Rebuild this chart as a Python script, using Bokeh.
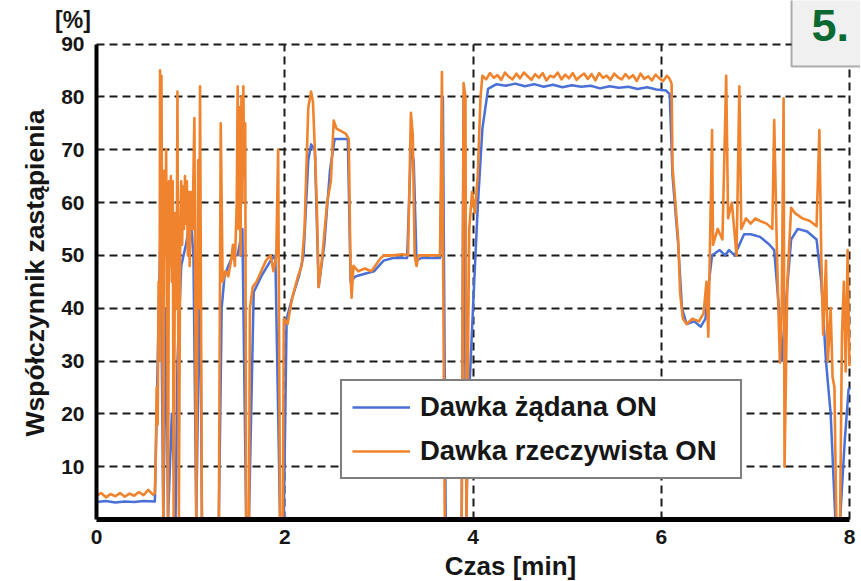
import math
from bokeh.plotting import figure
from bokeh.models import Range1d, FixedTicker, Label, BoxAnnotation
from bokeh.embed import file_html
from bokeh.resources import INLINE

# ---------------- data ----------------
x_ticks = [0, 2, 4, 6, 8]
y_ticks = [10, 20, 30, 40, 50, 60, 70, 80, 90]

# "Dawka rzeczywista ON" (orange)
t_act = [0.00, 0.05, 0.10, 0.15, 0.20, 0.25, 0.30, 0.35, 0.40, 0.45, 0.50, 0.55, 0.60, 0.62,
         0.63, 0.64, 0.65, 0.66, 0.67, 0.675, 0.685, 0.69, 0.70, 0.71, 0.72, 0.73, 0.74, 0.75,
         0.76, 0.77, 0.78, 0.79, 0.80, 0.81, 0.82, 0.835, 0.85, 0.86, 0.875, 0.89, 0.90, 0.91,
         0.92, 0.93, 0.94, 0.95, 0.96, 0.97, 0.98, 0.99, 1.00, 1.02, 1.04, 1.06, 1.08, 1.09,
         1.10, 1.12, 1.30, 1.32, 1.34, 1.37, 1.40, 1.43, 1.45, 1.47, 1.49, 1.50, 1.51, 1.52,
         1.53, 1.54, 1.55, 1.56, 1.57, 1.58, 1.59, 1.62, 1.63, 1.66, 1.70, 1.75, 1.80, 1.85,
         1.88, 1.91, 1.93, 1.95, 1.98, 1.99, 2.03, 2.08, 2.14, 2.18, 2.21, 2.25, 2.28, 2.30,
         2.32, 2.34, 2.36, 2.40, 2.45, 2.49, 2.52, 2.55, 2.60, 2.65, 2.68, 2.70, 2.71, 2.73,
         2.78, 2.85, 2.92, 2.96, 3.02, 3.06, 3.15, 3.25, 3.31, 3.34, 3.36, 3.38, 3.40, 3.42,
         3.55, 3.65, 3.67, 3.70, 3.88, 3.90, 3.92, 3.93, 3.96, 3.99, 4.02, 4.05, 4.08, 4.10,
         4.14, 4.18, 4.22, 4.26, 4.30, 4.34, 4.38, 4.42, 4.46, 4.50, 4.54, 4.58, 4.62, 4.66,
         4.70, 4.74, 4.78, 4.82, 4.86, 4.90, 4.94, 4.98, 5.02, 5.06, 5.10, 5.14, 5.18, 5.22,
         5.26, 5.30, 5.34, 5.38, 5.42, 5.46, 5.50, 5.54, 5.58, 5.62, 5.66, 5.70, 5.74, 5.78,
         5.82, 5.86, 5.90, 5.94, 5.98, 6.02, 6.06, 6.09, 6.11, 6.12,
         6.15, 6.18, 6.20, 6.23, 6.27, 6.33, 6.40, 6.45, 6.48, 6.50, 6.54, 6.55, 6.60, 6.65,
         6.69, 6.71, 6.75, 6.80, 6.83, 6.85, 6.90, 6.95, 7.00, 7.05, 7.12, 7.18, 7.20, 7.23,
         7.26, 7.28, 7.30, 7.31, 7.34, 7.38, 7.42, 7.50, 7.58, 7.65, 7.68, 7.70, 7.72, 7.75,
         7.77, 7.80, 7.82, 7.84, 7.86, 7.90, 7.92, 7.94, 7.96, 7.98, 8.00]
v_act = [4.5, 5.0, 4.2, 4.8, 4.4, 5.0, 4.3, 4.9, 4.5, 5.2, 4.6, 5.6, 4.7, 5.0,
         12, 25, 18, 45, 30, 85, 60, 84, 40, 0, 66, 50, 70, 40,
         0, 64, 48, 65, 45, 64, 0, 58, 40, 81, 0, 55, 64, 52,
         63, 55, 65, 56, 64, 50, 62, 48, 62, 55, 76, 0, 68, 40,
         82, 0, 0, 75, 45, 47, 46, 49, 52, 48, 60, 82, 55, 78,
         50, 80, 60, 82, 65, 75, 0, 0, 40, 44, 45, 47, 49, 50,
         47, 50, 70, 0, 0, 38, 37, 42, 46, 48, 55, 78, 81, 79,
         70, 60, 44, 50, 60, 64, 75.5, 74, 73.5, 73, 72, 46, 42, 48,
         47, 47.5, 47, 48, 49.5, 50, 50, 50.2, 50, 77, 73, 50, 48, 50,
         50, 50, 84.7, 0, 0, 82.6, 80, 0, 55, 62, 58, 65, 80, 84.0,
         83.3, 84.5, 83.6, 84.1, 83.2, 84.6, 83.8, 83.3, 84.4, 83.5, 84.6, 83.9, 83.2, 84.3,
         83.6, 84.5, 83.1, 84.0, 83.7, 84.6, 83.3, 84.2, 83.5, 84.5, 83.2, 83.9, 84.4, 83.4,
         84.3, 83.1, 84.5, 83.6, 84.0, 83.2, 84.4, 83.7, 83.3, 84.3, 83.5, 84.1, 83.0, 84.4,
         83.4, 83.9, 83.1, 84.2, 83.5, 83.0, 84.0, 83.4, 82.5, 66.7,
         60, 53, 43, 38, 37, 38, 37.5, 39, 45, 34.6, 73.7, 52, 55, 53,
         84, 57, 60, 50, 82, 55, 57, 56, 57, 56.5, 56, 55, 75.6, 50,
         29.7, 40, 79.7, 10, 45, 59, 58, 57, 56.5, 55.5, 73.7, 50, 35, 49,
         30, 40, 27, 25, 0, 0, 35, 45, 28, 51, 29]

# "Dawka żądana ON" (blue)
t_req = [0.00, 0.10, 0.20, 0.30, 0.40, 0.50, 0.62, 0.65, 0.68, 0.71, 0.74, 0.76, 0.80, 0.84,
         0.86, 0.90, 0.95, 0.98, 1.00, 1.03, 1.06, 1.10, 1.12, 1.30, 1.33, 1.36, 1.40, 1.45,
         1.50, 1.55, 1.59, 1.62, 1.67, 1.75, 1.85, 1.90, 1.95, 1.99, 2.02, 2.08, 2.15, 2.20,
         2.25, 2.28, 2.32, 2.36, 2.42, 2.48, 2.53, 2.60, 2.67, 2.70, 2.75, 2.85, 2.95, 3.05,
         3.15, 3.30, 3.34, 3.37, 3.40, 3.45, 3.65, 3.68, 3.71, 3.88, 3.90, 3.93, 3.95, 4.00,
         4.05, 4.10, 4.16, 4.25, 4.35, 4.45, 4.55, 4.65, 4.75, 4.85, 4.95, 5.05, 5.15, 5.25,
         5.35, 5.45, 5.55, 5.65, 5.75, 5.85, 5.95, 6.05, 6.09, 6.12, 6.18, 6.22, 6.27, 6.35,
         6.42, 6.47, 6.50, 6.54, 6.58, 6.62, 6.68, 6.72, 6.78, 6.83, 6.88, 6.95, 7.05, 7.15,
         7.20, 7.25, 7.28, 7.32, 7.38, 7.45, 7.55, 7.65, 7.70, 7.75, 7.80, 7.85, 7.90, 7.95,
         7.99, 8.00]
v_req = [3.3, 3.5, 3.2, 3.4, 3.3, 3.5, 3.4, 30, 55, 0, 40, 0, 20, 0,
         30, 48, 52, 55, 57, 50, 0, 50, 0, 0, 40, 46, 48, 50,
         50, 55, 0, 0, 43, 46, 49, 50, 0, 0, 38, 42, 46, 50,
         68, 71, 70, 44, 52, 66, 72, 72, 72, 45, 46, 46.5, 47, 49,
         49.5, 49.5, 70, 68, 49, 49.5, 49.5, 80, 0, 0, 80, 0, 20, 40,
         59, 74, 81.5, 82.4, 82.1, 82.5, 82.0, 82.4, 81.9, 82.3, 81.8, 82.2, 81.9, 82.1,
         81.6, 82.0, 81.7, 81.9, 81.5, 81.8, 81.4, 81.2, 80.5, 65, 52, 40, 37, 37.5,
         36.5, 38, 44, 50, 50.5, 51, 50, 51, 50, 52, 54, 54, 53.5, 52,
         51, 40, 30, 40, 53, 55, 54.5, 53, 45, 30, 20, 0, 0, 15,
         24.6, 25]

ORANGE = "#F0832E"
BLUE = "#4A6FD6"
TXT = "#161616"

# ---------------- page geometry ----------------
W, H = 860, 580
X0_PX, X_PPU = 96.0, 94.125       # pixel of x=0, pixels per minute
Y0_PX, Y_PPU = 519.0, 5.2833      # pixel of y=0, pixels per percent
def dx(px): return (px - X0_PX) / X_PPU
def dy(py): return (Y0_PX - py) / Y_PPU

p = figure(width=W, height=H, title=None,
           x_range=Range1d(dx(0), dx(W)), y_range=Range1d(dy(H), dy(0)),
           output_backend="svg", toolbar_location=None,
           min_border=0, min_border_left=0, min_border_right=0,
           min_border_top=0, min_border_bottom=0)
p.outline_line_color = None
p.background_fill_color = "white"
p.border_fill_color = "white"

# grid (dashed, limited to the data box)
for g, ticks, cb in ((p.xgrid, [2, 4, 6, 8], (0, 90)), (p.ygrid, y_ticks, (0, 8))):
    g.ticker = FixedTicker(ticks=ticks)
    g.grid_line_color = "#1a1a1a"
    g.grid_line_dash = "8 5"
    g.grid_line_width = 2
    if "cross_bounds" in g.properties():
        g.cross_bounds = cb

# axes drawn at x=0 / y=0
p.xaxis.ticker = FixedTicker(ticks=x_ticks)
p.yaxis.ticker = FixedTicker(ticks=y_ticks)
p.xaxis.fixed_location = 0
p.yaxis.fixed_location = 0
p.xaxis.bounds = (0, 8)
p.yaxis.bounds = (0, 90)
for ax in (p.xaxis[0], p.yaxis[0]):
    ax.axis_line_color = "black"
    ax.major_tick_in = 0
    ax.major_tick_out = 0
    ax.minor_tick_line_color = None
    ax.major_label_text_font = "Liberation Sans"
    ax.major_label_text_font_style = "bold"
    ax.major_label_text_font_size = "21px"
    ax.major_label_text_color = TXT
p.xaxis.axis_line_width = 5
p.yaxis.axis_line_width = 4
p.xaxis.major_label_standoff = 10
p.yaxis.major_label_standoff = 12

# axis titles and unit
p.add_layout(Label(x=dx(510), y=dy(565), text="Czas [min]", text_align="center",
                   text_baseline="alphabetic", text_font="Liberation Sans",
                   text_font_style="bold", text_font_size="26px", text_color=TXT))
p.add_layout(Label(x=dx(34), y=dy(272.5), text="Współczynnik zastąpienia",
                   angle=math.pi / 2, text_align="center", text_baseline="middle",
                   text_font="Liberation Sans", text_font_style="bold",
                   text_font_size="26.5px", text_color=TXT))
p.add_layout(Label(x=dx(72.5), y=dy(19), text="[%]", text_align="center",
                   text_baseline="alphabetic", text_font="Liberation Sans",
                   text_font_style="bold", text_font_size="23px", text_color=TXT))

# series
p.line(t_req, v_req, line_color=BLUE, line_width=2.5, line_join="round",
       legend_label="Dawka żądana ON")
p.line(t_act, v_act, line_color=ORANGE, line_width=2.6, line_join="round",
       legend_label="Dawka rzeczywista ON")

leg = p.legend[0]
leg.location = (340, H - 479)
leg.label_text_font = "Liberation Sans"
leg.label_text_font_style = "bold"
leg.label_text_font_size = "27.5px"
leg.label_text_color = TXT
leg.glyph_width = 58
leg.glyph_height = 30
leg.label_height = 30
leg.label_width = 310
leg.label_standoff = 10
leg.spacing = 12
leg.padding = 10
leg.margin = 0
leg.border_line_color = "black"
leg.border_line_width = 2
leg.background_fill_color = "white"
leg.background_fill_alpha = 1

# panel number box (runs off the top-right corner) and its text
p.add_layout(BoxAnnotation(left=dx(791), right=dx(W + 20), bottom=dy(66), top=dy(-20),
                           fill_color="#F0F0F0", fill_alpha=1,
                           line_color="black", line_width=2))
p.add_layout(Label(x=dx(811), y=dy(9), text="5.", text_align="left",
                   text_baseline="top", text_font="Liberation Sans",
                   text_font_style="bold", text_font_size="45px", text_color="#0B6A32"))

open("out.html", "w").write(file_html(p, INLINE))
